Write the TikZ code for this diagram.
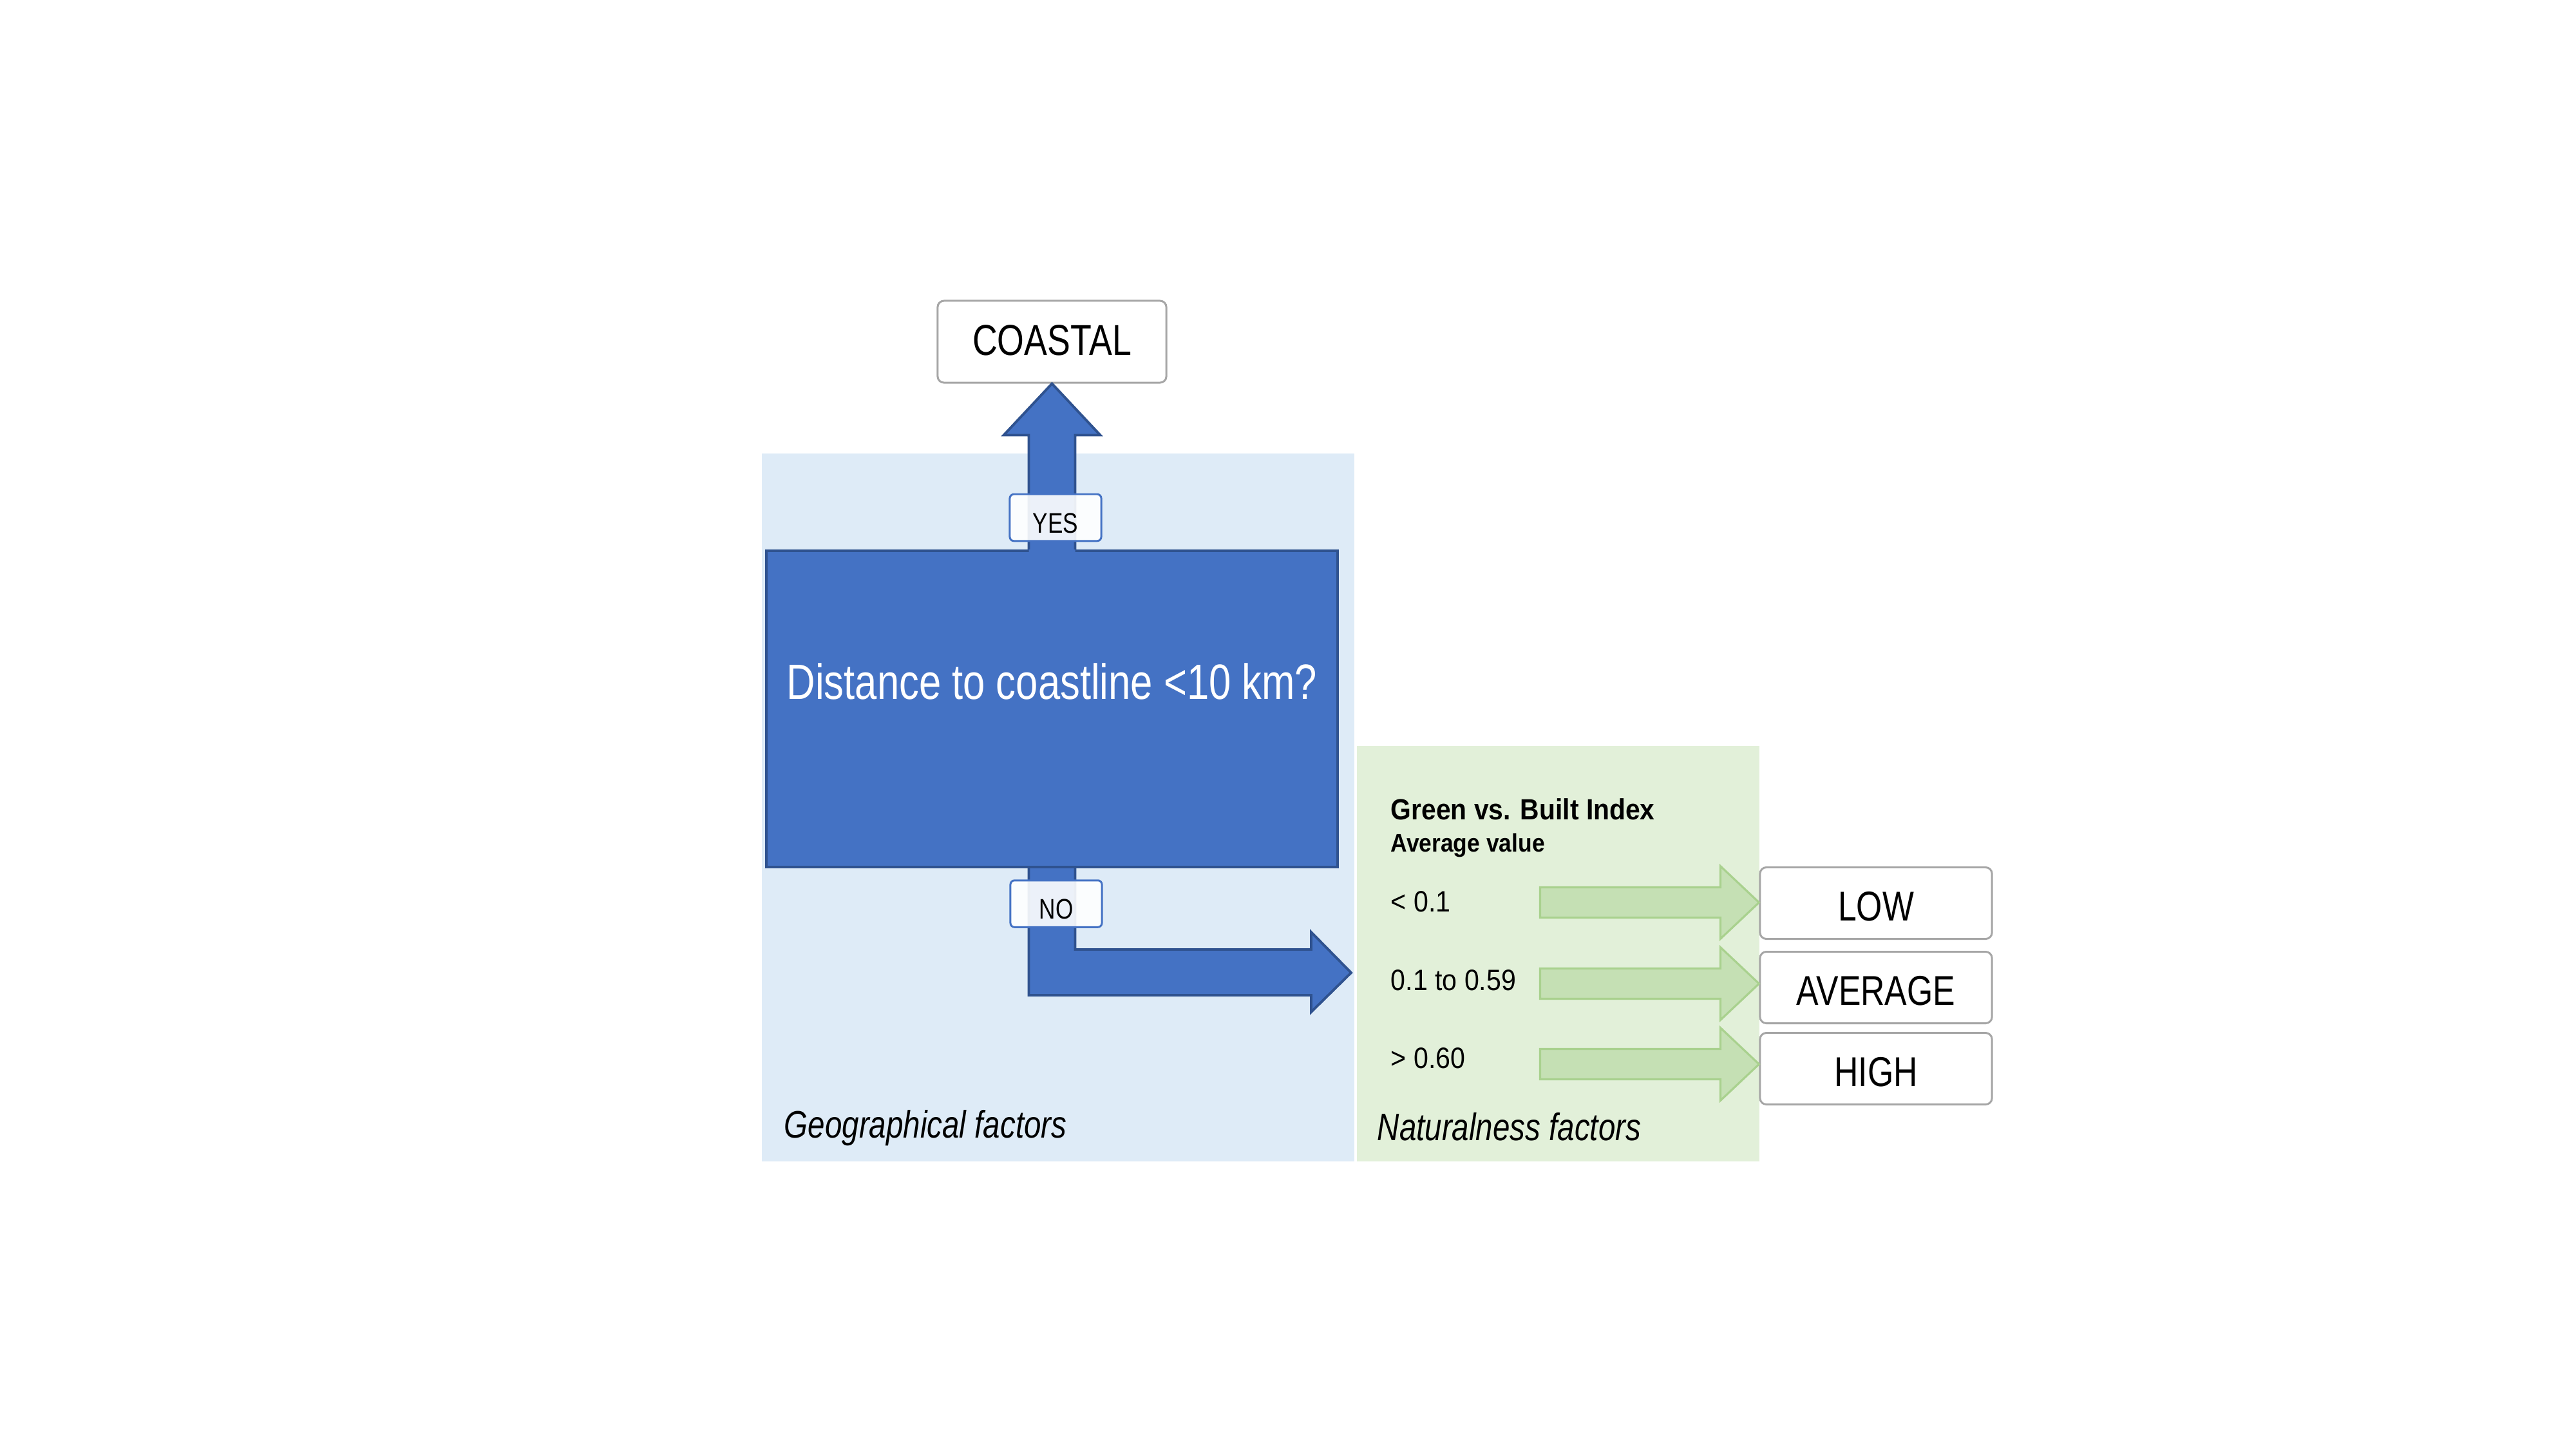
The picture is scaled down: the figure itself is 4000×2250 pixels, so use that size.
\documentclass[tikz,border=0pt]{standalone}
\usepackage{fontspec}
\setmainfont[FakeStretch=0.8]{Liberation Sans}
\newfontfamily\midfont[FakeStretch=0.9]{Liberation Sans}
\usetikzlibrary{calc}
\pgfdeclarelayer{back}
\pgfsetlayers{back,main}
\definecolor{geobg}{HTML}{DEEBF7}
\definecolor{natbg}{HTML}{E2F0D9}
\definecolor{qblue}{HTML}{4472C4}
\definecolor{qborder}{HTML}{2F528F}
\definecolor{gfill}{HTML}{C5E0B4}
\definecolor{gline}{HTML}{A9D18E}
\definecolor{boxline}{HTML}{A6A6A6}
\newcommand\greenarrow[2]{%
  \draw[greenarrow] ($(#1.west)+(-340,#2-23.5)$) -- ($(#1.west)+(-60,#2-23.5)$)
    -- ($(#1.west)+(-60,#2-56.5)$) -- ($(#1.west)+(0,#2)$)
    -- ($(#1.west)+(-60,#2+56.5)$) -- ($(#1.west)+(-60,#2+23.5)$)
    -- ($(#1.west)+(-340,#2+23.5)$) -- cycle;}
\begin{document}
\begin{tikzpicture}[x=0.01cm,y=-0.01cm,
  area/.style={inner sep=0pt, draw=none},
  resultbox/.style={draw=boxline, line width=0.85pt, rounded corners=2.8pt, fill=white,
    inner sep=0pt, minimum width=3.6cm, minimum height=1.11cm, text height=15.8pt, text depth=0pt,
    font=\fontsize{18.4}{22}\selectfont},
  answerbox/.style={draw=qblue, line width=0.85pt, rounded corners=1.8pt, fill=white,
    fill opacity=0.9, text opacity=1, inner sep=0pt, minimum width=1.42cm,
    minimum height=0.725cm, text height=13.5pt, text depth=0pt,
    font=\fontsize{12.5}{15}\selectfont},
  bigarrow/.style={fill=qblue, draw=qborder, line width=1.1pt, line join=miter},
  greenarrow/.style={fill=gfill, draw=gline, line width=0.9pt, line join=miter},
  lbl/.style={inner sep=0pt, anchor=base west}
]
\useasboundingbox (0,0) rectangle (4000,2250);
\begin{pgfonlayer}{back}
  \fill[white] (0,0) rectangle (4000,2250);
  \node[area, fill=geobg, minimum width=9.20cm, minimum height=10.99cm] (geo) at (1643,1253.5) {};
  \node[area, fill=natbg, minimum width=6.25cm, minimum height=6.45cm] (nat) at (2419.5,1480.5) {};
\end{pgfonlayer}

% question box
\node[fill=qblue, draw=qborder, line width=1.2pt, inner sep=0pt,
  minimum width=8.87cm, minimum height=4.91cm, text=white,
  font=\fontsize{21.9}{26}\selectfont, text height=0pt, text depth=8.8pt]
  (main) at (1633.5,1100.5) {Distance to coastline <10 km?};

% COASTAL result
\node[resultbox, minimum width=3.55cm, minimum height=1.27cm, text height=12.2pt,
  font=\fontsize{19.1}{23}\selectfont] (coastal) at (1633.5,530.5) {COASTAL};

% YES arrow (merges into the question box)
\fill[qblue] ($(main.north)+(-36,6)$) -- ($(coastal.south)+(-36,80)$)
  -- ($(coastal.south)+(-75,80)$) -- (coastal.south) -- ($(coastal.south)+(75,80)$)
  -- ($(coastal.south)+(36,80)$) -- ($(main.north)+(36,6)$) -- cycle;
\draw[qborder, line width=1.1pt, line join=miter] ($(main.north)+(-36,0)$) -- ($(coastal.south)+(-36,80)$)
  -- ($(coastal.south)+(-75,80)$) -- (coastal.south) -- ($(coastal.south)+(75,80)$)
  -- ($(coastal.south)+(36,80)$) -- ($(main.north)+(36,0)$);

% NO arrow (under the question box)
\coordinate (notip) at (2098,1510);
\coordinate (shl) at ($(main.south)+(-36,-30)$);
\coordinate (shr) at ($(main.south)+(36,-30)$);
\coordinate (hbot) at ($(notip)+(-62,35)$);
\coordinate (htop) at ($(notip)+(-62,-36)$);
\begin{pgfonlayer}{back}
  \draw[bigarrow] (shl) -- (shl |- hbot) -- (hbot) -- ($(notip)+(-62,61)$) -- (notip)
    -- ($(notip)+(-62,-63)$) -- (htop) -- (shr |- htop) -- (shr) -- cycle;
\end{pgfonlayer}

% YES / NO labels
\node[answerbox] (yes) at (1639,803.5) {YES};
\node[answerbox] (no) at (1640,1403) {NO};

% results
\node[resultbox] (low) at (2913,1402) {LOW};
\node[resultbox] (average) at (2913,1533) {AVERAGE};
\node[resultbox] (high) at (2913,1659) {HIGH};

\greenarrow{low}{-1}
\greenarrow{average}{-6}
\greenarrow{high}{-7}

% texts
\node[lbl, font=\fontsize{16.9}{20}\selectfont\itshape] (geolbl) at (1217,1766) {Geographical factors};
\node[lbl, font=\fontsize{16.9}{20}\selectfont\itshape] (natlbl) at (2138,1770) {Naturalness factors};
\node[lbl, font=\midfont\bfseries\fontsize{12.9}{15}\selectfont] (gvb) at (2159,1272) {Green vs. Built Index};
\node[lbl, font=\midfont\bfseries\fontsize{11.2}{13}\selectfont] (avgval) at (2159,1322) {Average value};
\node[lbl, font=\midfont\fontsize{13}{15}\selectfont] (v1) at (2159,1415) {< 0.1};
\node[lbl, font=\midfont\fontsize{13}{15}\selectfont] (v2) at (2159,1537) {0.1 to 0.59};
\node[lbl, font=\midfont\fontsize{13}{15}\selectfont] (v3) at (2159,1658) {> 0.60};
\end{tikzpicture}
\end{document}
